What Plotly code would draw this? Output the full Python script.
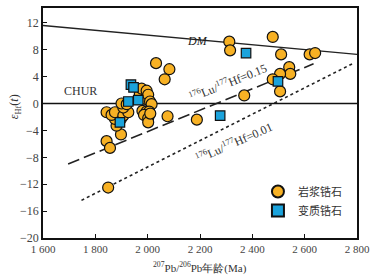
import plotly.graph_objects as go

# Magmatic zircon (岩浆锆石): age (Ma), eHf(t)
mag_age = [1849, 1843, 1856, 1898, 1881, 1875, 1898, 1843, 1862, 1875, 1907, 1926,
           1907, 1900, 1920, 1970, 1977, 1990, 1996, 2002, 2009, 2015, 1980, 1996,
           2006, 1986, 2002, 2002, 2010, 2076, 2188, 2032, 2083, 2065, 2312, 2315,
           2478, 2510, 2619, 2640, 2541, 2545, 2506, 2478, 2506, 2369]
mag_ehf = [-12.5, -5.6, -6.6, -4.6, -3.3, -2.3, -2.3, -1.3, -1.7, -1.3, -1.8, -1.3,
           -0.6, 0.0, -0.1, 1.4, 2.2, 0.7, 1.9, 1.3, 0.3, -0.1, -1.1, -1.2,
           -1.2, -1.7, -2.2, -2.8, -1.5, -1.9, -2.4, 6.0, 5.1, 3.6, 9.2, 7.9,
           9.9, 7.3, 7.3, 7.5, 5.4, 4.4, 4.4, 3.6, 1.8, 1.2]

# Metamorphic zircon (变质锆石)
met_age = [1936, 1946, 1926, 1964, 1894, 2277, 2376, 2498]
met_ehf = [2.8, 2.4, 0.3, 0.5, -2.8, -1.8, 7.5, 3.3]

# Reference lines
dm_x = [1600, 2800]
dm_y = [11.6, 7.3]
chur_x = [1600, 2800]
chur_y = [0, 0]
lu015_x = [1696, 2634]
lu015_y = [-9.0, 5.9]
lu001_x = [1747, 2787]
lu001_y = [-14.4, 6.0]

x_ticks = [1600, 1800, 2000, 2200, 2400, 2600, 2800]
x_tick_labels = ["1 600", "1 800", "2 000", "2 200", "2 400", "2 600", "2 800"]
y_ticks = [-20, -16, -12, -8, -4, 0, 4, 8, 12]
y_tick_labels = ["−20", "−16", "−12", "−8", "−4", "0", "4", "8", "12"]

serif = "Liberation Serif, Times New Roman, serif"
cjk = "Noto Sans CJK SC"

fig = go.Figure()
fig.add_trace(go.Scatter(x=dm_x, y=dm_y, mode="lines", line=dict(color="#222", width=1.3),
                         showlegend=False, hoverinfo="skip"))
fig.add_trace(go.Scatter(x=chur_x, y=chur_y, mode="lines", line=dict(color="#111", width=1.5),
                         showlegend=False, hoverinfo="skip"))
fig.add_trace(go.Scatter(x=lu015_x, y=lu015_y, mode="lines",
                         line=dict(color="#222", width=1.6, dash="12px,5px"),
                         showlegend=False, hoverinfo="skip"))
fig.add_trace(go.Scatter(x=lu001_x, y=lu001_y, mode="lines",
                         line=dict(color="#222", width=1.6, dash="3px,3px"),
                         showlegend=False, hoverinfo="skip"))
fig.add_trace(go.Scatter(x=mag_age, y=mag_ehf, mode="markers", name="岩浆锆石",
                         marker=dict(symbol="circle", size=11, color="#F7B124",
                                     line=dict(color="#111", width=1.2))))
fig.add_trace(go.Scatter(x=met_age, y=met_ehf, mode="markers", name="变质锆石",
                         marker=dict(symbol="square", size=9.5, color="#1BA3DC",
                                     line=dict(color="#111", width=1.2))))

annotations = [
    dict(x=2190, y=9.3, text="<i>DM</i>", showarrow=False,
         font=dict(family=serif, size=12, color="#222")),
    dict(x=1744, y=1.8, text="CHUR", showarrow=False,
         font=dict(family=serif, size=12, color="#333")),
    dict(x=2307, y=3.1, text="<sup>176</sup>Lu/<sup>177</sup>Hf=0.15", showarrow=False,
         textangle=-22, font=dict(family=serif, size=12, color="#333")),
    dict(x=2330, y=-5.8, text="<sup>176</sup>Lu/<sup>177</sup>Hf=0.01", showarrow=False,
         textangle=-24, font=dict(family=serif, size=12, color="#333")),
    dict(x=0.5, y=-0.128, xref="paper", yref="paper", showarrow=False,
         xanchor="center", yanchor="middle",
         text="<sup>207</sup>Pb/<sup>206</sup>Pb年龄(Ma)",
         font=dict(family=serif, size=11, color="#333")),
    dict(x=-0.088, y=0.57, xref="paper", yref="paper", showarrow=False, textangle=-90,
         xanchor="center", yanchor="middle",
         text="<i>ε</i><sub>Hf</sub>(<i>t</i>)",
         font=dict(family=serif, size=12, color="#333")),
]

fig.update_layout(
    width=378, height=279,
    margin=dict(l=43, r=21, t=6, b=41),
    paper_bgcolor="white", plot_bgcolor="white",
    font=dict(family=serif, size=11, color="#444"),
    showlegend=True,
    legend=dict(x=0.968, y=0.265, xanchor="right", yanchor="top",
                bgcolor="rgba(0,0,0,0)", font=dict(family=cjk, size=11, color="#333"),
                itemsizing="constant", tracegroupgap=2),
    annotations=annotations,
    xaxis=dict(range=[1600, 2800], tickvals=x_ticks, ticktext=x_tick_labels,
               ticks="inside", ticklen=4, tickwidth=1.3, tickcolor="#111",
               showline=True, linecolor="#111", linewidth=1.5, mirror=True,
               showgrid=False, zeroline=False,
               tickfont=dict(family=serif, size=11, color="#444")),
    yaxis=dict(range=[-20, 14.2], tickvals=y_ticks, ticktext=y_tick_labels,
               ticks="inside", ticklen=4, tickwidth=1.3, tickcolor="#111",
               showline=True, linecolor="#111", linewidth=1.5, mirror=True,
               showgrid=False, zeroline=False,
               tickfont=dict(family=serif, size=12, color="#444")),
)

fig.write_html("out.html", config={"displayModeBar": False},
               post_script="document.body.style.margin='0';document.body.style.overflow='hidden';")
